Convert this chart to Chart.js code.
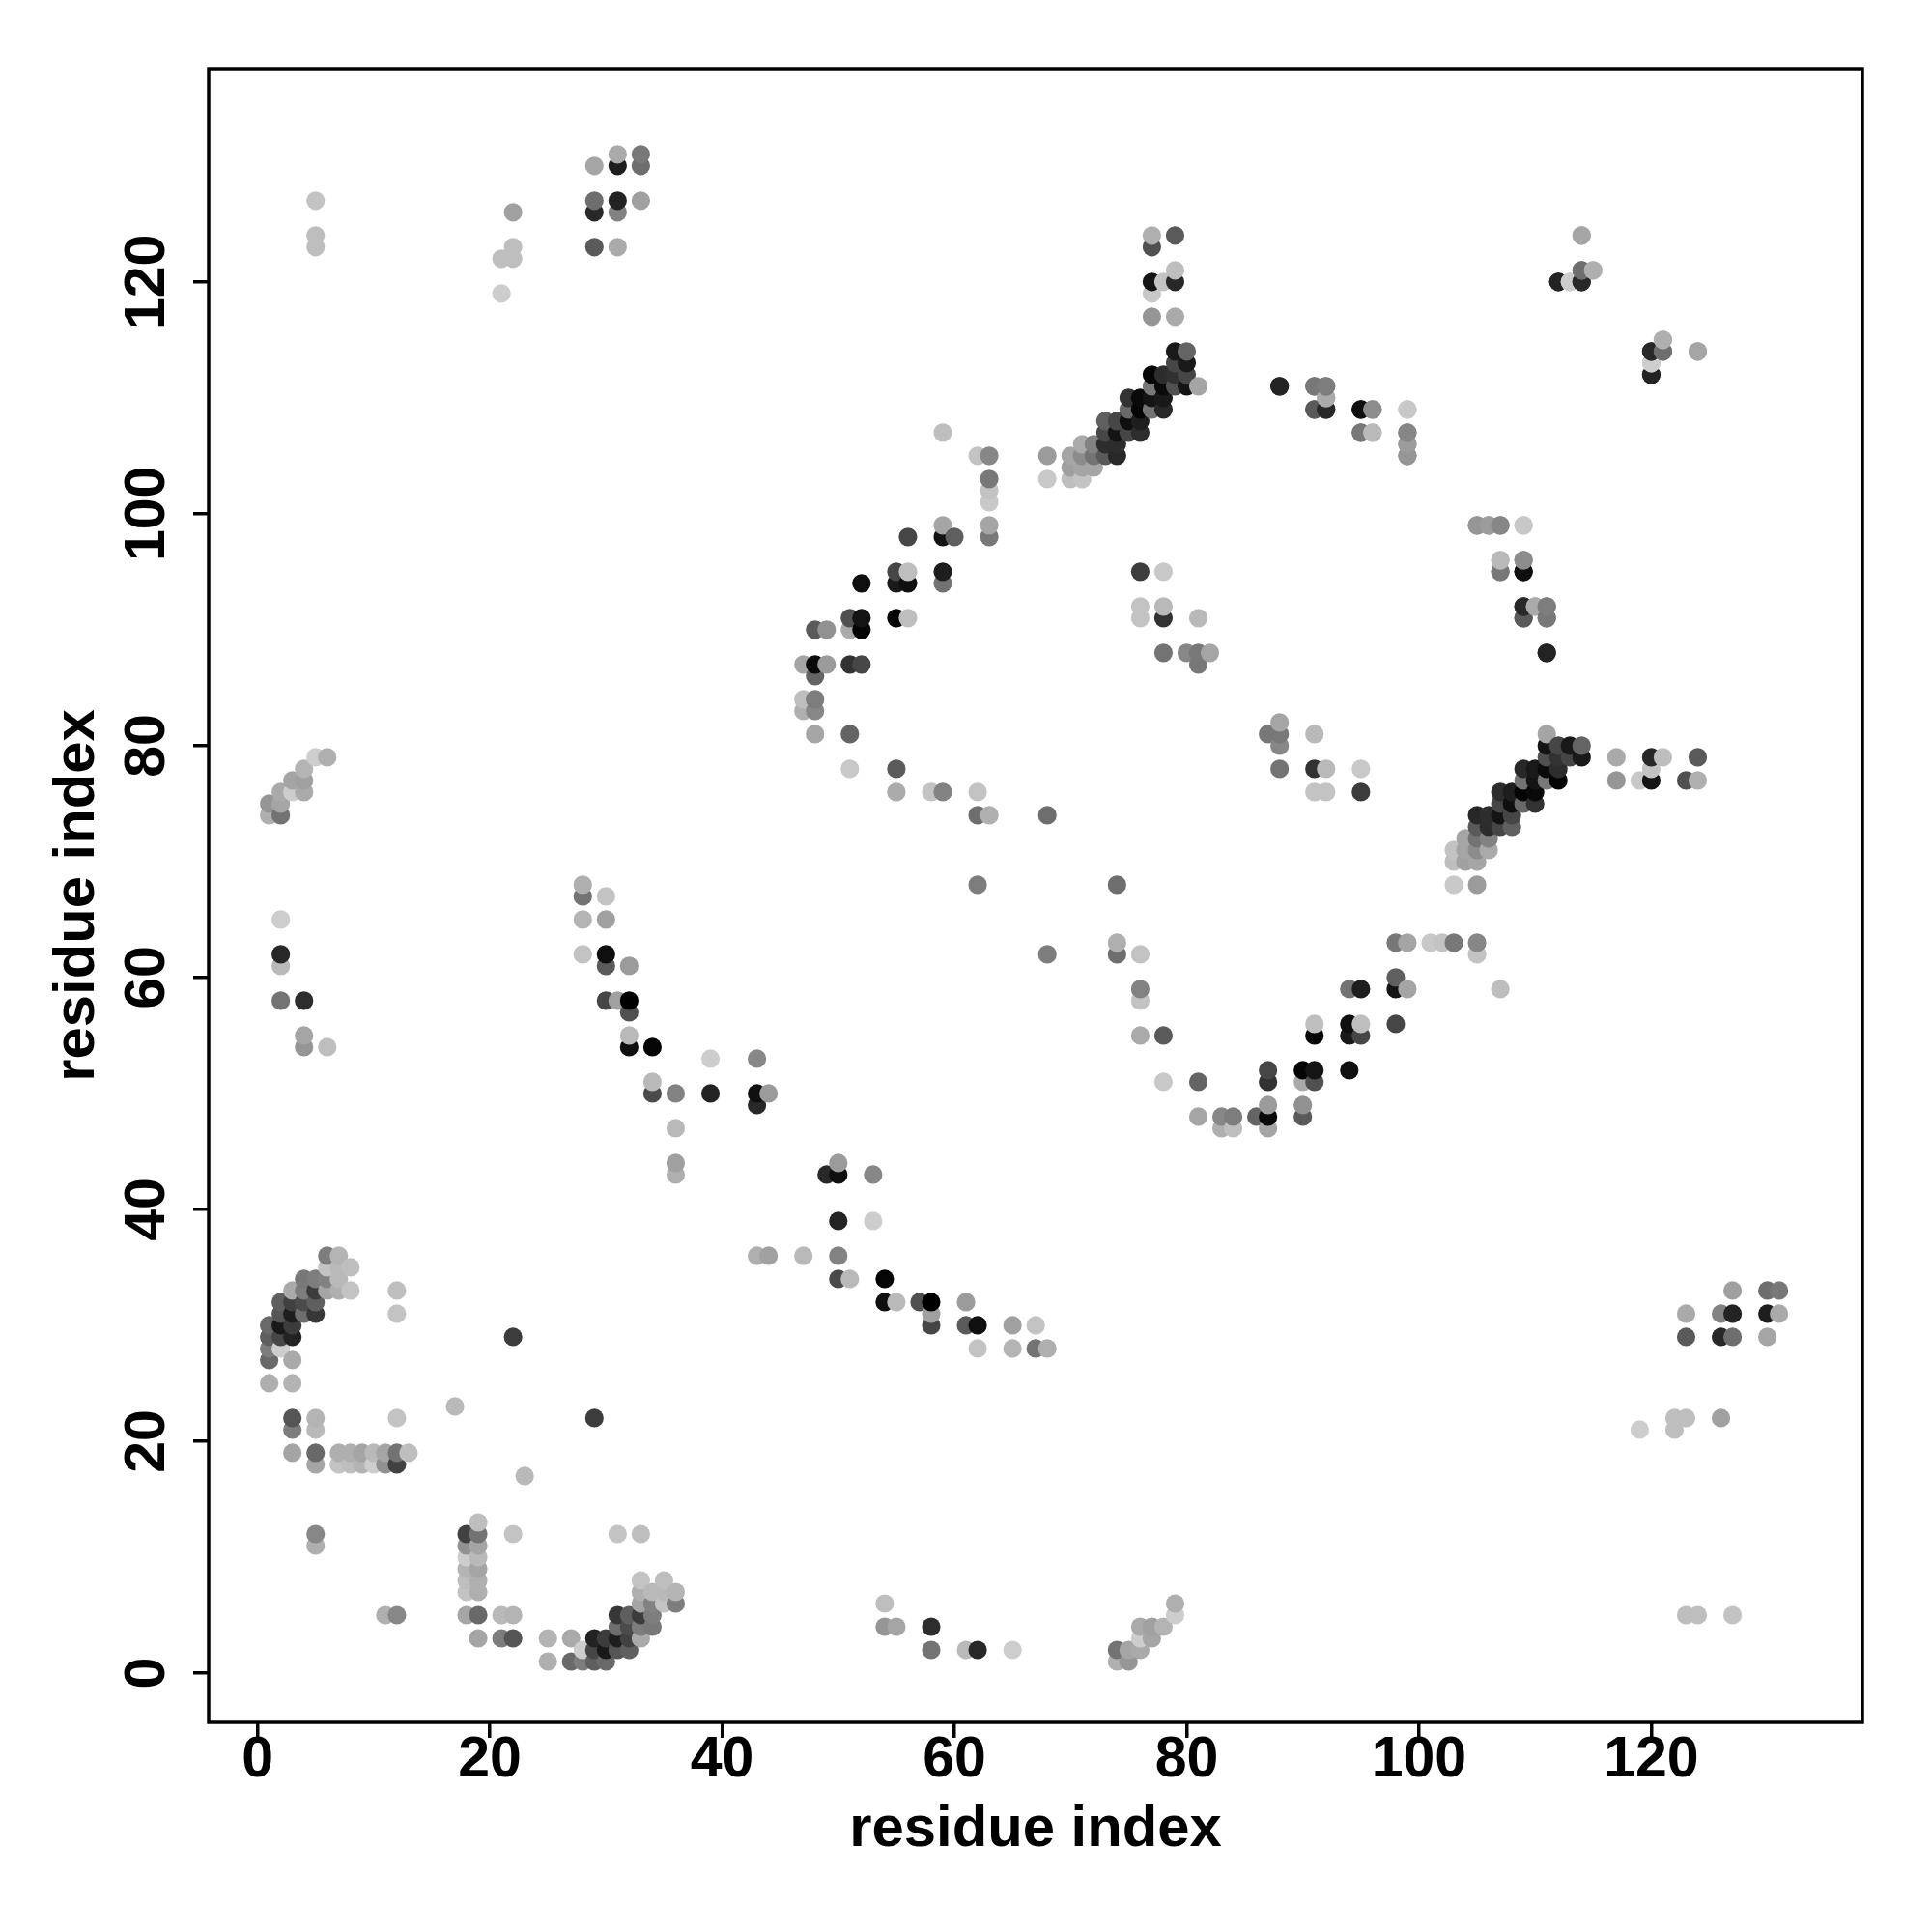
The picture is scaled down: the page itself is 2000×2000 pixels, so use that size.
<!DOCTYPE html>
<html><head><meta charset="utf-8">
<style>html,body{margin:0;padding:0;background:#fff}canvas{display:block}</style>
<script src="https://cdn.jsdelivr.net/npm/chart.js@4"></script></head>
<body><div style="width:2000px;height:2000px"><canvas id="c" width="2000" height="2000"></canvas></div>
<script>
const tickValues=[0,20,40,60,80,100,120];
const axisTitle="residue index";
// Upper triangle of the symmetric contact map (residue i < residue j), gray level 0-255
const residueI=[
6,7, 6,7,8, 4,5,6,7, 3,4,5,6,7,8,12, 2,3,4,5, 2,3,4,5,12, 1,2,3, 1,2,3,22, 1,2, 1,3, 1,3, 17, 3,5,12, 3,5,
3,5,7,8,9,10,11,12,13, 5,7,8,9,10,11,12, 5, 5,
1,2,1,2,2,3,4,3,4,4,5,6,2,2,2,2,4,4,4,6,5,5,5,21,21,22,22,22,
29,31,31,33,33,29,29,31,31,33,29,31,
28,28,30,28,30,28,30,30,32,30,31,32,32,32,32,34,39,43,34,34,36,39,43,44,43,36,36,36,
59,62,63,68,68,63,63,63,59,63,56,59,60,63,55,56,59,52,55,56,59,51,52,55,56,48,49,51,52,47,48,49,51,52,48,47,48,47,48,48,51,51,55,55,58,59,62,62,63,68,62,
79,80,79,80,77,78,79,80,77,78,79,80,81,75,76,77,78,75,76,77,78,73,74,75,76,73,74,75,76,71,72,73,74,70,71,72,73,74,70,71,72,70,71,
77,79,77,79,77,78,79,77,77,79,
76,78,76,78,76,78,81,78,80,81,82,81,
88,91,92,92,91,92,95,96,99,95,96,99,99,99,105,106,107,109,107,109,107,109,109,110,111,109,111,111,
114,114,115,112,113,114,121,120,121,124,120,120
];
const residueJ=[
36,36, 35,35,35, 34,34,34,34, 33,33,33,33,33,33,33, 32,32,32,32, 31,31,31,31,31, 30,30,30, 29,29,29,29, 28,28, 27,27, 25,25, 23, 22,22,22, 21,21,
19,19,19,19,19,19,19,19,19, 18,18,18,18,18,18,18, 12, 11,
75,75,74,74,76,76,76,77,77,78,79,79,65,62,61,58,58,55,54,54,127,124,123,119,122,122,123,126,
130,131,130,131,130,127,126,127,126,127,123,123,
68,67,67,65,65,62,62,61,61,58,58,58,57,55,54,54,53,53,51,50,50,50,50,50,49,47,44,43,
107,105,105,105,103,103,102,101,99,99,98,98,98,98,95,95,95,94,94,94,94,91,91,91,91,90,90,90,90,87,87,87,87,87,86,84,84,83,83,81,81,78,78,76,76,76,76,74,74,74,68,
114,114,113,113,112,112,112,112,111,111,111,111,111,110,110,110,110,109,109,109,109,108,108,108,108,107,107,107,107,106,106,106,106,105,105,105,105,105,104,104,104,103,103,
124,124,123,121,120,120,120,119,117,117,
95,95,92,92,91,91,91,88,88,88,88,87,
111,111,111,110,109,109,109,109,109,107,107,107,106,105,99,99,99,99,96,96,95,95,92,92,92,91,91,88,
124,121,121,120,120,120,115,114,114,114,113,112
];
const contactGray=[
125,180, 195,185,190, 120,125,130,185, 170,125,60,165,175,195,190, 95,65,75,95, 85,30,110,55,195, 105,25,60, 95,70,35,60, 125,205, 105,170, 175,180, 185, 85,180,195, 125,185,
165,105,175,175,165,185,165,115,190, 165,195,190,180,205,145,65, 135, 175,
150,165,175,115,170,205,170,165,160,180,205,175,205,40,185,115,45,165,150,190,195,190,190,205,190,190,190,160,
165,170,30,120,110,110,40,35,130,160,90,170,
175,115,195,180,160,195,15,90,155,70,160,0,80,185,15,5,205,135,185,75,130,35,15,155,40,185,160,175,
190,195,135,155,200,120,195,200,165,165,70,20,95,120,70,190,30,15,25,15,115,80,20,5,190,90,145,170,5,165,10,155,50,70,100,190,125,175,135,165,100,200,90,170,195,130,195,110,175,110,125,
25,100,70,25,5,45,50,70,120,10,80,20,165,50,10,20,25,105,5,115,40,95,70,15,30,70,20,70,45,170,130,45,45,165,140,115,90,40,160,165,165,190,195,
175,90,80,190,20,195,40,200,150,170,
60,200,195,185,195,50,185,115,135,120,165,120,
35,115,125,175,100,35,10,140,200,130,190,135,150,145,150,155,135,200,185,140,120,15,40,170,125,90,120,35,
165,115,180,40,200,40,175,40,110,165,205,35
];

// the map is symmetric: every contact appears at (i,j) and (j,i); painted by ascending x then y
const contacts=[];
residueI.forEach((a,k)=>{
  const b=residueJ[k], g=contactGray[k];
  contacts.push({x:a,y:b,g:g},{x:b,y:a,g:g});
});
contacts.sort((p,q)=>p.x-q.x||p.y-q.y);

const FONT='"Liberation Sans", Arial, sans-serif';
const boxPlugin={id:'box',afterDraw(c){
  const a=c.chartArea,x=c.ctx;x.save();x.strokeStyle='#000';x.lineWidth=3.5;
  x.strokeRect(a.left,a.top,a.right-a.left,a.bottom-a.top);x.restore();}};

function axis(horizontal,size){
  return {
    type:'linear',min:horizontal?-4.21:-4.25,max:horizontal?138.18:138.4,
    afterBuildTicks(s){s.ticks=tickValues.map(v=>({value:v}));},
    afterFit(s){ if(horizontal){s.height=size;}else{s.width=size;} },
    border:{display:false},
    grid:{drawOnChartArea:false,drawTicks:true,tickLength:16,color:'#000',lineWidth:3.5,tickColor:'#000',tickWidth:3.5},
    ticks:{color:'#000',font:{family:FONT,weight:'bold',size:59},padding:horizontal?-12:-3,autoSkip:false,
      minRotation:horizontal?0:90,maxRotation:horizontal?0:90,align:'center',crossAlign:horizontal?'near':'center',callback:v=>String(v)},
    title:{display:true,text:axisTitle,color:'#000',font:{family:FONT,weight:'bold',size:59.8},padding:{top:4,bottom:0}}
  };
}
new Chart(document.getElementById('c'),{
  type:'scatter',
  data:{datasets:[{data:contacts.map(p=>({x:p.x,y:p.y})),
    pointRadius:9.6,pointHoverRadius:9.6,pointBorderWidth:0,
    pointBackgroundColor:contacts.map(p=>`rgb(${p.g},${p.g},${p.g})`)}]},
  options:{responsive:false,animation:false,
    layout:{padding:{left:41,top:71,right:72,bottom:70}},
    plugins:{legend:{display:false},tooltip:{enabled:false}},
    scales:{x:axis(true,147),y:axis(false,175)}
  },
  plugins:[boxPlugin]
});
</script></body></html>
